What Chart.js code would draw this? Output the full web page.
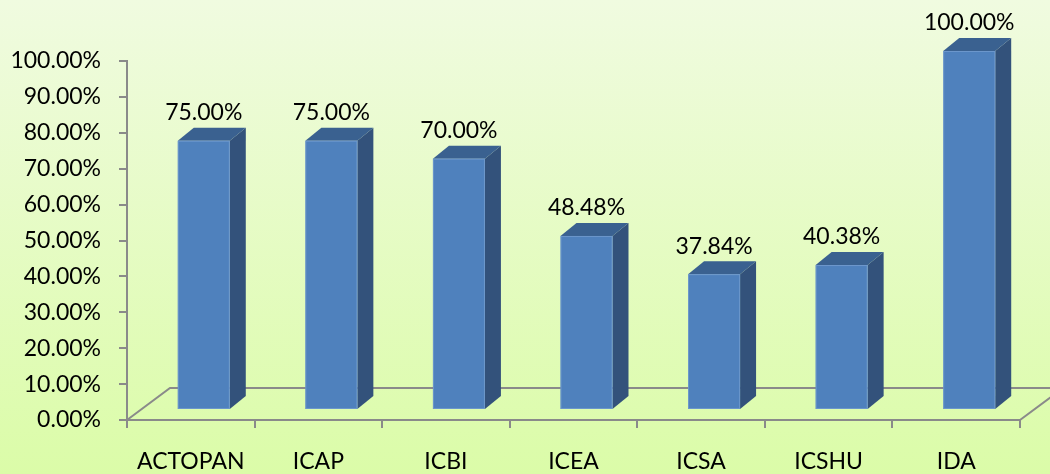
<!DOCTYPE html>
<html>
<head>
<meta charset="utf-8">
<script src="https://cdn.jsdelivr.net/npm/chart.js@4.4.1/dist/chart.umd.min.js"></script>
<style>
  html, body { margin: 0; padding: 0; background: #e6fbc4; }
  #wrap { width: 1050px; height: 474px; position: relative; }
</style>
</head>
<body>
<div id="wrap"><canvas id="c" width="1050" height="474"></canvas></div>
<script>
const categories = ["ACTOPAN", "ICAP", "ICBI", "ICEA", "ICSA", "ICSHU", "IDA"];
const values = [75.00, 75.00, 70.00, 48.48, 37.84, 40.38, 100.00];
const yTickMin = 0, yTickMax = 100, yTickStep = 10;

const FONT = "Lato, 'Open Sans', sans-serif";
const AXIS = '#8a8a8a';
const OFF = { dx: 13, dy: -10 };     // bar front plane offset
const DEPTH = { dx: 16, dy: -13 };   // bar depth
const FLOOR = { dx: 43, dy: -32 };   // floor depth

const bg = {
  id: 'bg',
  beforeDraw(chart) {
    const { ctx, width, height } = chart;
    const g = ctx.createLinearGradient(0, 0, 0, height);
    g.addColorStop(0, '#f0fbe0');
    g.addColorStop(1, '#dbfca8');
    ctx.save();
    ctx.fillStyle = g;
    ctx.fillRect(0, 0, width, height);
    ctx.restore();
  }
};

const bars3d = {
  id: 'bars3d',
  afterDatasetsDraw(chart) {
    const { ctx, chartArea: a, scales } = chart;
    const y0 = scales.y.getPixelForValue(0);
    ctx.save();
    // floor
    ctx.strokeStyle = AXIS;
    ctx.lineWidth = 2;
    ctx.beginPath();
    ctx.moveTo(a.left, y0);
    ctx.lineTo(a.left + FLOOR.dx, y0 + FLOOR.dy);
    ctx.lineTo(a.right + FLOOR.dx, y0 + FLOOR.dy);
    ctx.lineTo(a.right, y0);
    ctx.stroke();
    // bars
    const meta = chart.getDatasetMeta(0);
    meta.data.forEach((el, i) => {
      const p = el.getProps(['x', 'y', 'base', 'width'], true);
      const x0 = p.x - p.width / 2 + OFF.dx, x1 = p.x + p.width / 2 + OFF.dx;
      const yt = p.y + OFF.dy, yb = p.base + OFF.dy;
      // side
      ctx.fillStyle = '#33527b';
      ctx.beginPath();
      ctx.moveTo(x1, yt); ctx.lineTo(x1 + DEPTH.dx, yt + DEPTH.dy);
      ctx.lineTo(x1 + DEPTH.dx, yb + DEPTH.dy); ctx.lineTo(x1, yb);
      ctx.closePath(); ctx.fill();
      // top
      ctx.fillStyle = '#3a6190';
      ctx.beginPath();
      ctx.moveTo(x0, yt); ctx.lineTo(x0 + DEPTH.dx, yt + DEPTH.dy);
      ctx.lineTo(x1 + DEPTH.dx, yt + DEPTH.dy); ctx.lineTo(x1, yt);
      ctx.closePath(); ctx.fill();
      // front
      ctx.fillStyle = '#4f81bd';
      ctx.fillRect(x0, yt, x1 - x0, yb - yt);
      ctx.strokeStyle = 'rgba(120,160,210,0.7)';
      ctx.lineWidth = 1;
      ctx.strokeRect(x0 + 0.5, yt + 0.5, x1 - x0 - 1, yb - yt - 1);
      // label
      ctx.fillStyle = '#000';
      ctx.font = '23px ' + FONT;
      ctx.textAlign = 'center';
      ctx.textBaseline = 'middle';
      ctx.fillText(values[i].toFixed(2) + '%', p.x + OFF.dx, yt - 28);
    });
    ctx.restore();
  }
};

new Chart(document.getElementById('c'), {
  type: 'bar',
  data: {
    labels: categories,
    datasets: [{
      data: values,
      backgroundColor: 'rgba(0,0,0,0)',
      borderWidth: 0,
      barPercentage: 0.4076,
      categoryPercentage: 1.0
    }]
  },
  options: {
    responsive: false,
    animation: false,
    devicePixelRatio: 1,
    layout: { padding: { top: 61, right: 30, left: 0, bottom: 0 } },
    plugins: { legend: { display: false }, tooltip: { enabled: false } },
    scales: {
      x: {
        grid: { display: true, drawOnChartArea: false, drawTicks: true, tickLength: 8, color: AXIS, lineWidth: 2, offset: true },
        border: { display: true, color: AXIS, width: 2 },
        ticks: { color: '#000', font: { family: FONT, size: 23 }, padding: 20, maxRotation: 0 },
        afterFit(s) { s.height = 54; }
      },
      y: {
        min: yTickMin, max: yTickMax,
        grid: { display: true, drawOnChartArea: false, drawTicks: true, tickLength: 8, color: AXIS, lineWidth: 2 },
        border: { display: true, color: AXIS, width: 2 },
        ticks: { stepSize: yTickStep, color: '#000', font: { family: FONT, size: 23 }, padding: 18,
                 callback: v => Number(v).toFixed(2) + '%' },
        afterFit(s) { s.width = 127; }
      }
    }
  },
  plugins: [bg, bars3d]
});
</script>
</body>
</html>
